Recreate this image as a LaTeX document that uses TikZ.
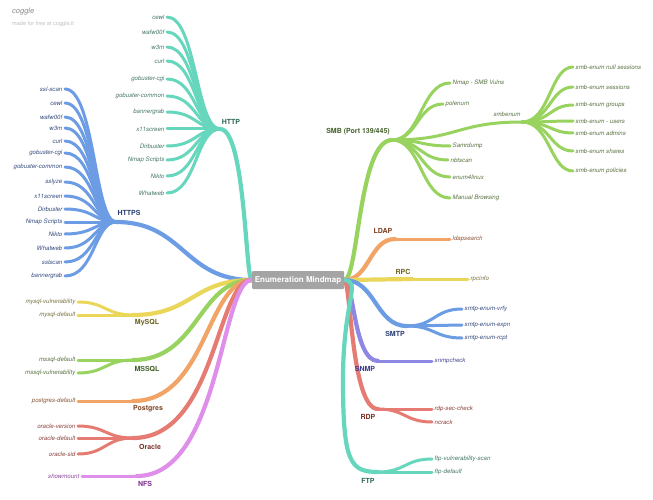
\documentclass[tikz,border=0pt]{standalone}
\usepackage{fontspec}
\setmainfont{TeX Gyre Heros}
\usetikzlibrary{calc}
\pgfdeclarelayer{bg}
\pgfsetlayers{bg,main}
\definecolor{cTeal}{HTML}{66D6BD}
\definecolor{cBlue}{HTML}{6C9CE4}
\definecolor{cYellow}{HTML}{EAD75A}
\definecolor{cGreen}{HTML}{97D35E}
\definecolor{cOrange}{HTML}{F1A466}
\definecolor{cRed}{HTML}{E57B72}
\definecolor{cPink}{HTML}{DF8FE9}
\definecolor{cPurple}{HTML}{8E87E3}
\definecolor{tTeal}{HTML}{2E6557}\definecolor{lTeal}{HTML}{4A7A6E}
\definecolor{tBlue}{HTML}{2B3F73}\definecolor{lBlue}{HTML}{3A5080}
\definecolor{tYellow}{HTML}{6E6522}\definecolor{lYellow}{HTML}{7D7545}
\definecolor{tGreen}{HTML}{43602A}\definecolor{lGreen}{HTML}{5C7545}
\definecolor{tOrange}{HTML}{7E4122}\definecolor{lOrange}{HTML}{8E573C}
\definecolor{tRed}{HTML}{7C2F29}\definecolor{lRed}{HTML}{8D4640}
\definecolor{tPink}{HTML}{7B2F8E}\definecolor{lPink}{HTML}{8E4AA0}
\definecolor{tPurple}{HTML}{393A8E}\definecolor{lPurple}{HTML}{4A4A96}
\definecolor{rootgray}{HTML}{A4A4A4}
\tikzset{
  lL/.style={anchor=east, inner xsep=2.5pt, inner ysep=1pt, font=\fontsize{6.1}{7}\selectfont\itshape},
  lR/.style={anchor=west, inner xsep=2.5pt, inner ysep=1pt, font=\fontsize{6.1}{7}\selectfont\itshape},
  blab/.style={inner sep=0pt, font=\fontsize{7}{8}\selectfont\bfseries},
  mainline/.style={line width=4.2pt, line cap=round},
  leafline/.style={line width=3pt, line cap=round},
  rootbox/.style={fill=rootgray, rounded corners=1pt, minimum width=92pt, minimum height=18pt,
    inner sep=0pt, text=white, font=\fontsize{8}{9}\selectfont\bfseries},
}
\newcommand\conn[4][]{\draw[#1] let \p1=(#2), \p2=(#3) in (\p1) .. controls ({\x1+#4*(\x2-\x1)},\y1) and ({\x1+#4*(\x2-\x1)},\y2) .. (\p2);}
\begin{document}
\begin{tikzpicture}[x=1pt,y=-1pt]
\useasboundingbox (0,0) rectangle (653,500);
\begin{pgfonlayer}{bg}
\fill[white] (0,0) rectangle (653,500);
\end{pgfonlayer}

\node[anchor=west, inner sep=0pt, text=black!45, font=\fontsize{7.5}{8}\selectfont\itshape] (logo) at (12,12) {coggle};
\node[anchor=west, inner sep=0pt, text=black!25, font=\fontsize{5.6}{6}\selectfont] (madefor) at (12,24) {made for free at coggle.it};

\node[rootbox] (root) at (298,280) {Enumeration Mindmap};

% ---------- HTTP
\coordinate (jHTTP) at (220,129);
\node[blab,text=tTeal] (HTTP) at (231,122) {HTTP};
\node[lL,text=lTeal] (h1) at (167,17) {cewl};
\node[lL,text=lTeal] (h2) at (167,32) {wafw00f};
\node[lL,text=lTeal] (h3) at (167,47) {w3m};
\node[lL,text=lTeal] (h4) at (167,61) {curl};
\node[lL,text=lTeal] (h5) at (167,79) {gobuster-cgi};
\node[lL,text=lTeal] (h6) at (167,96) {gobuster-common};
\node[lL,text=lTeal] (h7) at (167,112) {bannergrab};
\node[lL,text=lTeal] (h8) at (167,129) {x11screen};
\node[lL,text=lTeal] (h9) at (167,146) {Dirbuster};
\node[lL,text=lTeal] (h10) at (167,160) {Nmap Scripts};
\node[lL,text=lTeal] (h11) at (167,176) {Nikto};
\node[lL,text=lTeal] (h12) at (167,193) {Whatweb};

% ---------- HTTPS
\coordinate (jHTTPS) at (116,222);
\node[blab,text=tBlue] (HTTPS) at (129,213) {HTTPS};
\node[lL,text=lBlue] (s1) at (65,89) {ssl-scan};
\node[lL,text=lBlue] (s2) at (65,103) {cewl};
\node[lL,text=lBlue] (s3) at (65,117) {wafw00f};
\node[lL,text=lBlue] (s4) at (65,128) {w3m};
\node[lL,text=lBlue] (s5) at (65,141) {curl};
\node[lL,text=lBlue] (s6) at (65,153) {gobuster-cgi};
\node[lL,text=lBlue] (s7) at (65,167) {gobuster-common};
\node[lL,text=lBlue] (s8) at (65,182) {sslyze};
\node[lL,text=lBlue] (s9) at (65,196) {x11screen};
\node[lL,text=lBlue] (s10) at (65,209) {Dirbuster};
\node[lL,text=lBlue] (s11) at (65,222) {Nmap Scripts};
\node[lL,text=lBlue] (s12) at (65,234) {Nikto};
\node[lL,text=lBlue] (s13) at (65,248) {Whatweb};
\node[lL,text=lBlue] (s14) at (65,262) {sslscan};
\node[lL,text=lBlue] (s15) at (65,276) {bannergrab};

% ---------- MySQL
\coordinate (jMySQL) at (133,315);
\node[blab,text=tYellow] (MySQL) at (147,323) {MySQL};
\node[lL,text=lYellow] (my1) at (78,302) {mysql-vulnerability};
\node[lL,text=lYellow] (my2) at (78,315) {mysql-default};

% ---------- MSSQL
\coordinate (jMSSQL) at (133,360);
\node[blab,text=tGreen] (MSSQL) at (147,369) {MSSQL};
\node[lL,text=lGreen] (ms1) at (78,360) {mssql-default};
\node[lL,text=lGreen] (ms2) at (78,373) {mssql-vulnerability};

% ---------- Postgres
\coordinate (jPg) at (133,401);
\node[blab,text=tOrange] (Postgres) at (148,409) {Postgres};
\node[lL,text=lOrange] (pg1) at (78,401) {postgres-default};

% ---------- Oracle
\coordinate (jOra) at (133,438);
\node[blab,text=tRed] (Oracle) at (150,447) {Oracle};
\node[lL,text=lRed] (or1) at (78,426) {oracle-version};
\node[lL,text=lRed] (or2) at (78,438) {oracle-default};
\node[lL,text=lRed] (or3) at (78,454) {oracle-sid};

% ---------- NFS
\coordinate (jNFS) at (137,476);
\node[blab,text=tPink] (NFS) at (145,484) {NFS};
\node[lL,text=lPink] (nf1) at (82,476) {showmount};

% ---------- SMB
\coordinate (jSMB) at (392,140);
\node[blab,text=tGreen] (SMB) at (358,132) {SMB (Port 139/445)};
\node[lR,text=lGreen] (b1) at (450,83) {Nmap - SMB Vulns};
\node[lR,text=lGreen] (b2) at (443,104) {polenum};
\coordinate (jsmbenum) at (522,122);
\node[inner sep=0pt, font=\fontsize{6.1}{7}\selectfont\itshape, text=lGreen] (smbenum) at (507,114) {smbenum};
\node[lR,text=lGreen] (b3) at (450,146) {Samrdump};
\node[lR,text=lGreen] (b4) at (448,160) {nbtscan};
\node[lR,text=lGreen] (b5) at (450,177) {enum4linux};
\node[lR,text=lGreen] (b6) at (450,198) {Manual Browsing};
\node[lR,text=lGreen] (e1) at (573,67) {smb-enum null sessions};
\node[lR,text=lGreen] (e2) at (573,87) {smb-enum sessions};
\node[lR,text=lGreen] (e3) at (573,105) {smb-enum groups};
\node[lR,text=lGreen] (e4) at (573,121) {smb-enum - users};
\node[lR,text=lGreen] (e5) at (573,133) {smb-enum admins};
\node[lR,text=lGreen] (e6) at (573,151) {smb-enum shares};
\node[lR,text=lGreen] (e7) at (573,171) {smb-enum policies};

% ---------- LDAP
\coordinate (jLDAP) at (395,239);
\node[blab,text=tOrange] (LDAP) at (383,231) {LDAP};
\node[lR,text=lOrange] (ld1) at (450,239) {ldapsearch};

% ---------- RPC
\coordinate (jRPC) at (412,279);
\node[blab,text=tYellow] (RPC) at (403,272) {RPC};
\node[lR,text=lYellow] (rp1) at (468,279) {rpcinfo};

% ---------- SMTP
\coordinate (jSMTP) at (407,326);
\node[blab,text=tBlue] (SMTP) at (395,334) {SMTP};
\node[lR,text=lBlue] (sm1) at (462,309) {smtp-enum-vrfy};
\node[lR,text=lBlue] (sm2) at (462,325) {smtp-enum-expn};
\node[lR,text=lBlue] (sm3) at (462,338) {smtp-enum-rcpt};

% ---------- SNMP
\coordinate (jSNMP) at (378,361);
\node[blab,text=tPurple] (SNMP) at (365,369) {SNMP};
\node[lR,text=lPurple] (sn1) at (432,361) {snmpcheck};

% ---------- RDP
\coordinate (jRDP) at (378,409);
\node[blab,text=tRed] (RDP) at (368,417) {RDP};
\node[lR,text=lRed] (rd1) at (432,409) {rdp-sec-check};
\node[lR,text=lRed] (rd2) at (432,422) {ncrack};

% ---------- FTP
\coordinate (jFTP) at (378,472);
\node[blab,text=tTeal] (FTP) at (368,481) {FTP};
\node[lR,text=lTeal] (ft1) at (432,459) {ftp-vulnerability-scan};
\node[lR,text=lTeal] (ft2) at (432,472) {ftp-default};

\begin{pgfonlayer}{bg}
% left side
\foreach \k in {h1,h2,h3,h4,h5,h6,h7,h8,h9,h10,h11,h12} {\conn[leafline,cTeal]{jHTTP}{\k.east}{0.45}}
\conn[mainline,cTeal]{root.west}{jHTTP}{0.2}
\foreach \k in {s1,s2,s3,s4,s5,s6,s7,s8,s9,s10,s11,s12,s13,s14,s15} {\conn[leafline,cBlue]{jHTTPS}{\k.east}{0.42}}
\conn[mainline,cBlue]{root.west}{jHTTPS}{0.5}
\foreach \k in {my1,my2} {\conn[leafline,cYellow]{jMySQL}{\k.east}{0.5}}
\conn[mainline,cYellow]{root.west}{jMySQL}{0.5}
\foreach \k in {ms1,ms2} {\conn[leafline,cGreen]{jMSSQL}{\k.east}{0.5}}
\conn[mainline,cGreen]{root.west}{jMSSQL}{0.45}
\conn[leafline,cOrange]{jPg}{pg1.east}{0.5}
\conn[mainline,cOrange]{root.west}{jPg}{0.38}
\foreach \k in {or1,or2,or3} {\conn[leafline,cRed]{jOra}{\k.east}{0.5}}
\conn[mainline,cRed]{root.west}{jOra}{0.3}
\conn[leafline,cPink]{jNFS}{nf1.east}{0.5}
\conn[mainline,cPink]{root.west}{jNFS}{0.27}
% right side
\foreach \k in {b1,b2,b3,b4,b5,b6} {\conn[leafline,cGreen]{jSMB}{\k.west}{0.5}}
\conn[leafline,cGreen]{jSMB}{jsmbenum}{0.5}
\foreach \k in {e1,e2,e3,e4,e5,e6,e7} {\conn[leafline,cGreen]{jsmbenum}{\k.west}{0.55}}
\conn[mainline,cGreen]{root.east}{jSMB}{0.3}
\conn[leafline,cOrange]{jLDAP}{ld1.west}{0.5}
\conn[mainline,cOrange]{root.east}{jLDAP}{0.5}
\conn[leafline,cYellow]{jRPC}{rp1.west}{0.5}
\conn[mainline,cYellow]{root.east}{jRPC}{0.5}
\foreach \k in {sm1,sm2,sm3} {\conn[leafline,cBlue]{jSMTP}{\k.west}{0.5}}
\conn[mainline,cBlue]{root.east}{jSMTP}{0.5}
\conn[leafline,cPurple]{jSNMP}{sn1.west}{0.5}
\conn[mainline,cPurple]{root.east}{jSNMP}{0.28}
\foreach \k in {rd1,rd2} {\conn[leafline,cRed]{jRDP}{\k.west}{0.5}}
\conn[mainline,cRed]{root.east}{jRDP}{0.2}
\foreach \k in {ft1,ft2} {\conn[leafline,cTeal]{jFTP}{\k.west}{0.5}}
\draw[mainline,cTeal] (root.east) .. controls (362,282) and (343,300) .. (343,380) .. controls (343,462) and (350,472) .. (jFTP);
\end{pgfonlayer}
\end{tikzpicture}
\end{document}
